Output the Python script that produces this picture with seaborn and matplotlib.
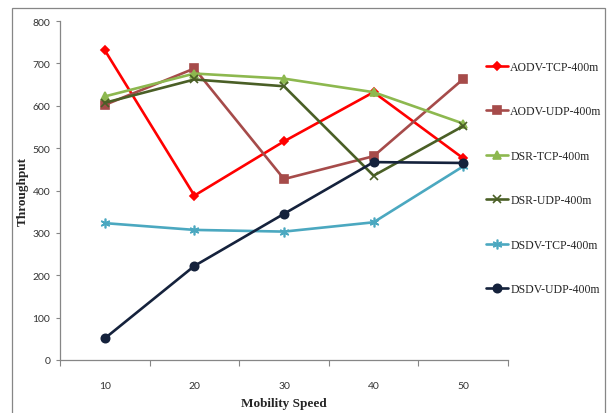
import pandas as pd
import seaborn as sns
import matplotlib
import matplotlib.pyplot as plt
from matplotlib.patches import Rectangle
from matplotlib.ticker import FixedLocator

speeds = [10, 20, 30, 40, 50]
series_names = ['AODV-TCP-400m', 'AODV-UDP-400m', 'DSR-TCP-400m',
                'DSR-UDP-400m', 'DSDV-TCP-400m', 'DSDV-UDP-400m']
aodv_tcp = [731, 388, 516, 632, 476]
aodv_udp = [602, 688, 427, 481, 663]
dsr_tcp = [622, 676, 664, 632, 558]
dsr_udp = [607, 662, 646, 435, 552]
dsdv_tcp = [323, 307, 303, 325, 457]
dsdv_udp = [51, 222, 345, 467, 465]

colors = ['#FF0000', '#A64B4A', '#8DB84F', '#4A5F26', '#4BA8C0', '#15223C']
markers = ['D', 's', '^', 'x', (6, 2, 0), 'o']
marker_sizes = [4.5, 6, 6, 6, 7, 6]

rows = []
for name, vals in zip(series_names, [aodv_tcp, aodv_udp, dsr_tcp, dsr_udp, dsdv_tcp, dsdv_udp]):
    for s, v in zip(speeds, vals):
        rows.append({'Mobility Speed': s, 'Throughput': v, 'Series': name})
df = pd.DataFrame(rows)

sns.set_style('white')
plt.rcParams['font.family'] = ['Lato', 'DejaVu Sans']

fig = plt.figure(figsize=(6.11, 4.14), dpi=100)
ax = fig.add_axes([60 / 611, 1 - 361 / 414, 448 / 611, 339 / 414])

for i, name in enumerate(series_names):
    sub = df[df['Series'] == name]
    sns.lineplot(data=sub, x='Mobility Speed', y='Throughput', ax=ax,
                 color=colors[i], marker=markers[i], markersize=marker_sizes[i],
                 markeredgecolor=colors[i], markeredgewidth=1.2,
                 linewidth=1.9, label=name, zorder=3)

ax.set_xlim(5, 55)
ax.set_ylim(0, 800)
ax.set_xticks(speeds)
ax.xaxis.set_minor_locator(FixedLocator([5, 15, 25, 35, 45, 55]))
ax.set_yticks(range(0, 801, 100))
ax.tick_params(axis='x', which='major', length=0, pad=15, labelsize=7.5, labelcolor='#333333')
ax.tick_params(axis='x', which='minor', length=4, width=0.8, color='#868686', direction='out', bottom=True)
ax.tick_params(axis='y', length=3, width=0.8, color='#868686', direction='out', left=True,
               labelsize=7.5, labelcolor='#333333', pad=4)
for sp in ['top', 'right']:
    ax.spines[sp].set_visible(False)
for sp in ['left', 'bottom']:
    ax.spines[sp].set_color('#868686')
    ax.spines[sp].set_linewidth(0.9)

ax.set_xlabel('Mobility Speed', fontsize=9.5, fontweight='bold',
              family='Liberation Serif', labelpad=5)
ax.set_ylabel('Throughput', fontsize=9.5, fontweight='bold',
              family='Liberation Serif', labelpad=3)

ax.legend(loc='upper left', bbox_to_anchor=(486 / 611, 1 - 62 / 414),
          bbox_transform=fig.transFigure, frameon=False,
          prop={'family': 'Liberation Serif', 'size': 8.5},
          labelspacing=2.75, handlelength=1.9, handletextpad=0.15,
          borderpad=0, borderaxespad=0)

fig.patches.append(Rectangle((12 / 611, -0.1), (605 - 12) / 611, 0.1 + 1 - 9 / 414,
                             transform=fig.transFigure, fill=False,
                             edgecolor='#868686', linewidth=0.9))

fig.savefig('out.png', dpi=100)
